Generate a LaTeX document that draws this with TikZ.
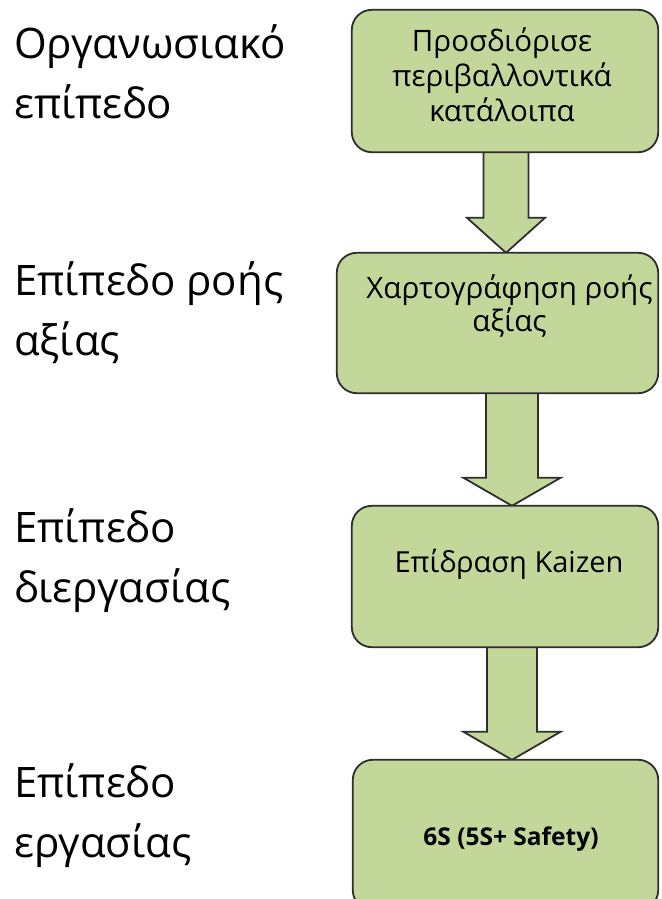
\documentclass[tikz,border=0pt]{standalone}
\usepackage{fontspec}
\setmainfont{Open Sans}
\usetikzlibrary{calc}
\definecolor{boxfill}{HTML}{C4D79B}
\definecolor{boxline}{HTML}{2E2E2E}
\tikzset{
  stagebox/.style={draw=boxline, fill=boxfill, line width=1.8pt, rounded corners=20pt,
    inner sep=0pt},
  levellabel/.style={anchor=base west, align=left, inner sep=0pt,
    font=\fontsize{42}{60}\selectfont},
  boxtext/.style={align=center, inner sep=0pt, font=\fontsize{29.5}{35}\selectfont},
  flowarrow/.style={draw=boxline, fill=boxfill, line width=1.8pt, line join=miter},
}
% block arrow: #1 x position, #2 from node, #3 to node, #4 shaft half width,
% #5 head half width, #6 head length
\newcommand\blockarrow[6]{%
  \path[flowarrow] let \p1=(#2.south), \p2=(#3.north) in
    ({#1pt-#4pt},\y1) -- ({#1pt-#4pt},{\y2+#6pt}) -- ({#1pt-#5pt},{\y2+#6pt})
    -- ({#1pt},\y2) -- ({#1pt+#5pt},{\y2+#6pt}) -- ({#1pt+#4pt},{\y2+#6pt})
    -- ({#1pt+#4pt},\y1);}
\begin{document}
\begin{tikzpicture}[x=1pt,y=-1pt]
  \useasboundingbox (0,0) rectangle (661,899);
  \clip (0,0) rectangle (661,899);

  % level labels (anchored at the baseline of their last line)
  \node[levellabel] (l1) at (14,118) {Οργανωσιακό\\επίπεδο};
  \node[levellabel] (l2) at (14,355) {Επίπεδο ροής\\αξίας};
  \node[levellabel] (l3) at (14,602) {Επίπεδο\\διεργασίας};
  \node[levellabel] (l4) at (14,857) {Επίπεδο\\εργασίας};

  % stage boxes (coordinates only; drawn after the arrows)
  \path (505,81) coordinate (c1) (497.5,323) coordinate (c2)
        (505,576.5) coordinate (c3) (505.5,835) coordinate (c4);
  \node[minimum width=306pt, minimum height=142pt, inner sep=0pt] (b1) at (c1) {};
  \node[minimum width=321pt, minimum height=140pt, inner sep=0pt] (b2) at (c2) {};
  \node[minimum width=306pt, minimum height=141pt, inner sep=0pt] (b3) at (c3) {};
  \node[minimum width=305pt, minimum height=150pt, inner sep=0pt] (b4) at (c4) {};

  % arrows between stages
  \blockarrow{506}{b1}{b2}{22.5}{39}{35}
  \blockarrow{512}{b2}{b3}{26}{48.5}{28}
  \blockarrow{512}{b3}{b4}{25}{48.5}{28}

  \foreach \b in {b1,b2,b3,b4}
    \draw[stagebox] (\b.north west) rectangle (\b.south east);

  % box texts (anchored at the baseline of their last line)
  \node[boxtext, anchor=base] (t1) at (502,121) {Προσδιόρισε\\περιβαλλοντικά\\κατάλοιπα};
  \node[boxtext, anchor=base, font=\fontsize{29.5}{33}\selectfont] (t2) at (509.5,331) {Χαρτογράφηση ροής\\αξίας};
  \node[boxtext, anchor=base, font=\fontsize{29}{33}\selectfont] (t3) at (509,572) {Επίδραση Kaizen};
  \node[boxtext, anchor=base, font=\bfseries\fontsize{24.5}{30}\selectfont] (t4) at (511,845) {6S (5S+ Safety)};
\end{tikzpicture}
\end{document}
